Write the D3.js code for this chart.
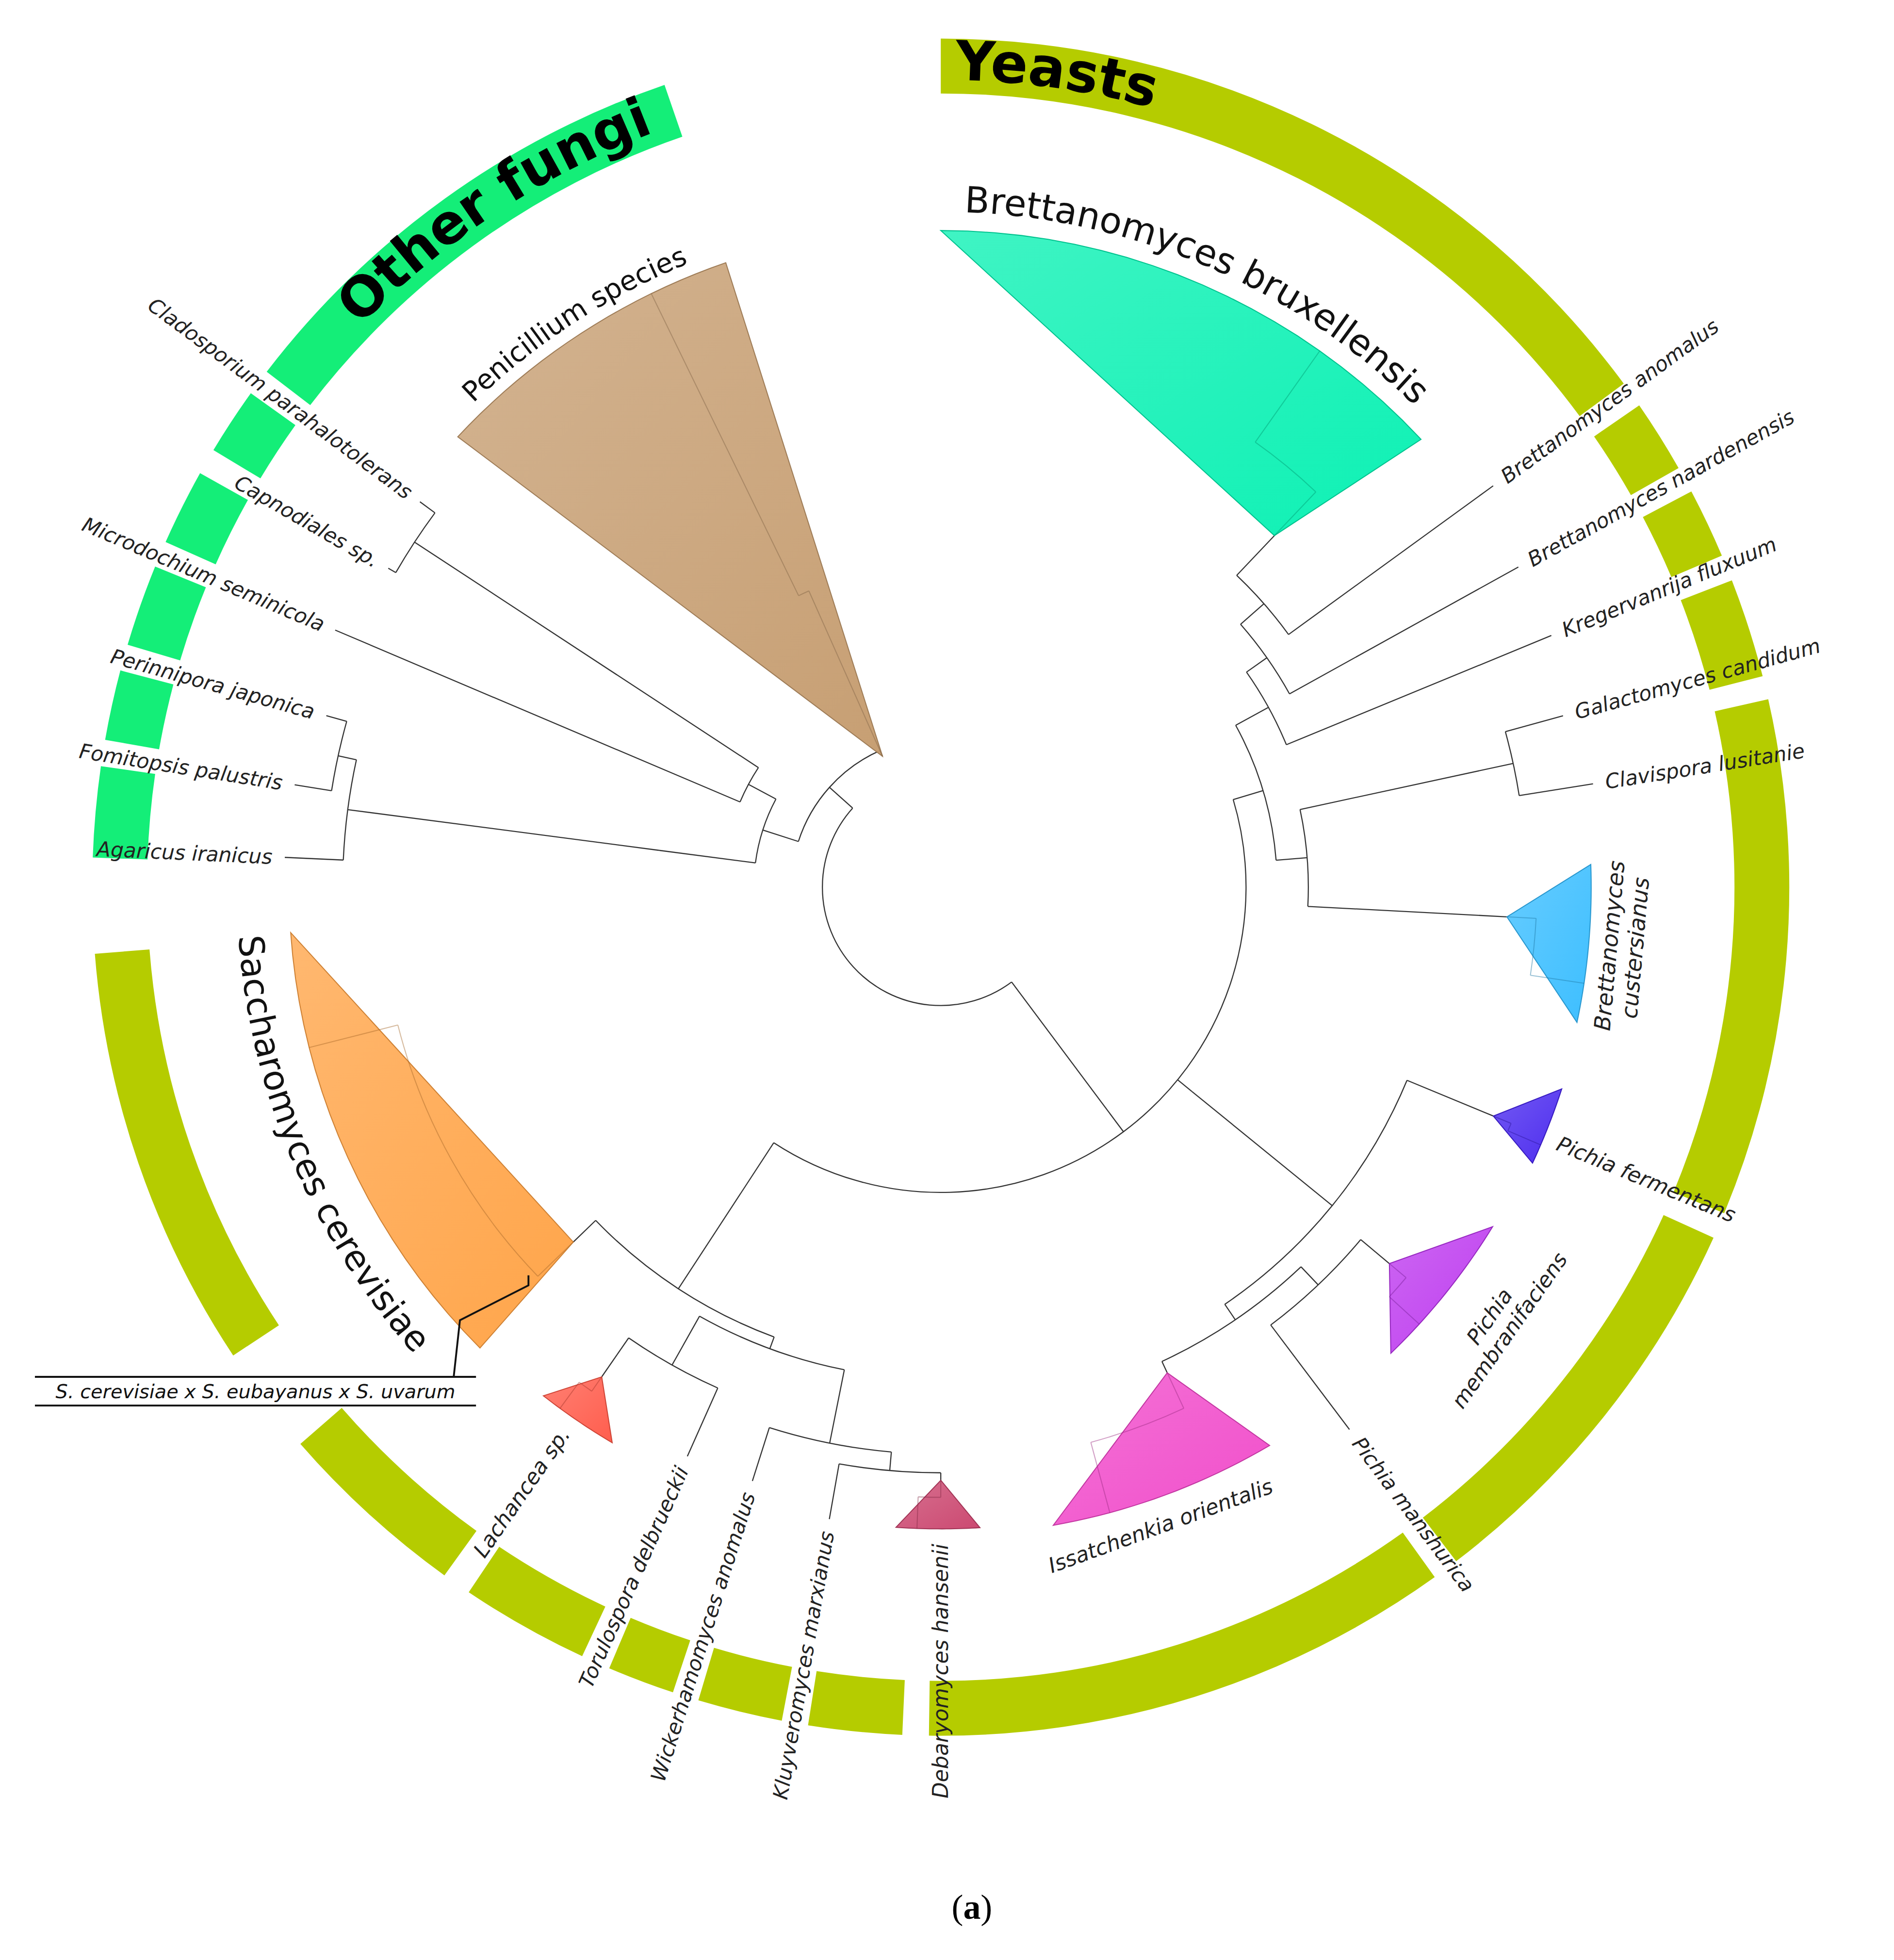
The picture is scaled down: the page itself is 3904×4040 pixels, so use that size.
<!DOCTYPE html>
<html><head><meta charset="utf-8">
<script src="https://cdn.jsdelivr.net/npm/d3@7"></script>
<style>body{margin:0;background:#fff}</style></head>
<body><svg id="c"></svg>
<script>
// ---- DATA ----
const nodes = [
 ["root","",95],["fungi","root",120],["f1","fungi",150],["f2","f1",175],["cc","f2",505],
 ["f3","f1",228],["agf","f3",480],["fp","agf",495],
 ["yeasts","root",245],["y1","yeasts",250],["y1a","y1",385],["y1b","y1a",395],["lt","y1b",440],
 ["wk","y1b",455],["kd","wk",470],
 ["y2","yeasts",260],["p1","y2",405],["p2","p1",420],["p3","p2",440],
 ["y3","yeasts",270],["gc","y3",295],["gc2","gc",470],["bk","y3",300],["bk2","bk",320],["bk3","bk2",345]
];
const leaves = [
 ["Capnodiales sp.","cc",300,512],["Cladosporium parahalotolerans","cc",306.5,520],
 ["Microdochium seminicola","f2",293,528],["Agaricus iranicus","agf",272.6,527],
 ["Fomitopsis palustris","fp",279,525],["Perinnipora japonica","fp",285.6,512],
 ["Torulospora delbrueckii","lt",204,500],["Wickerhamomyces anomalus","wk",197.6,500],
 ["Kluyveromyces marxianus","kd",190,515],["Pichia manshurica","p3",143,545],
 ["Galactomyces candidum","gc2",74.6,518],["Clavispora lusitanie","gc2",81,530],
 ["Kregervanrija fluxuum","bk",67.6,530],["Brettanomyces naardenensis","bk2",61,530],
 ["Brettanomyces anomalus","bk3",54,548]
];
const clades = [
 ["pen","fungi",313,341,336,115,530,"#c49a6c","Penicillium species"],
 ["scer","y1a",225,266,226,410,523,"#ffa040","Saccharomyces cerevisiae"],
 ["lach","lt",210.6,218,214.7,478,518,"#ff5544","Lachancea sp."],
 ["deb","kd",176.5,184,180,476,515,"#c9406a","Debaryomyces hansenii"],
 ["ferm","p1",108,115,112.5,480,524,"#4422ee","Pichia fermentans"],
 ["iss","p2",149.5,170,155,430,520,"#f044c8","Issatchenkia orientalis"],
 ["memb","p3",121.6,136,130,470,520,"#bb33ee","Pichia membranifaciens"],
 ["cust","gc",88,102,93,455,522,"#33bbff","Brettanomyces custersianus"],
 ["brux","bk3",0,47,43.5,389,527,"#00f0b0","Brettanomyces bruxellensis"]
];
const ringNames = ["Yeasts","Other fungi"];
const ringSpans = [[0,265.5],[272,341]];
const ringGaps = [[[53.6,55.4],[60.4,62.2],[67,68.8],[75.6,77.2],[112.6,114.4],[142.6,144.4],[180.8,182.6],[189,190.8],[196.6,198.4],[203,205],[213.8,215.8],[229,236.5]],
                  [[278.2,280],[284.8,286.6],[292.2,294],[299.2,301],[305.6,307.4]]];
const ringColors = ["#b5cc00","#14ee78"];
const ringTextSpan = [[1,27],[314,340]];
const hybridLabel = "S. cerevisiae x S. eubayanus x S. uvarum";

// ---- DRAW ----
const W=1520,H=1573;
const svg=d3.select("#c").attr("width",3904).attr("height",4040).attr("viewBox",`0 0 ${W} ${H}`);
const cx=755, cy=712;
const R=d3.scaleLinear().domain([0,700]).range([0,700]);
const pt=(a,r)=>{const t=a*Math.PI/180;return [cx+R(r)*Math.sin(t), cy-R(r)*Math.cos(t)];};
const rad=a=>a*Math.PI/180;
const defs=svg.append("defs");

const arcGen=d3.arc().innerRadius(R(637)).outerRadius(R(681));
ringSpans.forEach((s,i)=>{
  let segs=[],cur=s[0];
  ringGaps[i].forEach(g=>{segs.push([cur,g[0]]);cur=g[1];});
  segs.push([cur,s[1]]);
  svg.append("g").attr("transform",`translate(${cx},${cy})`).selectAll("path").data(segs).join("path")
    .attr("d",d=>arcGen({startAngle:rad(d[0]),endAngle:rad(d[1])})).attr("fill",ringColors[i]);
  const p=d3.path();p.arc(cx,cy,R(648),rad(ringTextSpan[i][0]-90),rad(ringTextSpan[i][1]-90),false);
  defs.append("path").attr("id","ring"+i).attr("d",p.toString());
  svg.append("text").attr("font-family","DejaVu Sans").attr("font-weight","bold").attr("font-size",44).attr("fill","#000")
    .append("textPath").attr("href","#ring"+i).text(ringNames[i]);
});

const rows=[...nodes.map(n=>({id:n[0],parent:n[1]||null,r:n[2],type:"node"})),
  ...leaves.map(l=>({id:l[0],parent:l[1],a:l[2],r:l[3],type:"leaf"})),
  ...clades.map(c=>({id:c[0],parent:c[1],a0:c[2],a1:c[3],a:c[4],r:c[5],ro:c[6],color:c[7],label:c[8],type:"clade"}))];
const root=d3.stratify().id(d=>d.id).parentId(d=>d.parent)(rows);
root.eachAfter(n=>{ if(n.children){const as=n.children.map(c=>c.data.a);n.data.a=(d3.min(as)+d3.max(as))/2;} });

const gT=svg.append("g").attr("fill","none").attr("stroke","#333").attr("stroke-width",0.9);
root.each(n=>{
  if(!n.children) return;
  const as=n.children.map(c=>c.data.a);
  const a0=d3.min(as),a1=d3.max(as);
  if(a1>a0){const p=d3.path();p.arc(cx,cy,R(n.data.r),rad(a0-90),rad(a1-90),false);gT.append("path").attr("d",p.toString());}
  n.children.forEach(c=>{
    gT.append("path").attr("d",d3.line()([pt(c.data.a,n.data.r),pt(c.data.a,c.data.r)]));
  });
});

root.leaves().filter(l=>l.data.type==="clade").forEach(l=>{
  const d=l.data, pts=[pt(d.a,d.r)];
  d3.range(d.a0,d.a1+0.01,(d.a1-d.a0)/20).forEach(a=>pts.push(pt(a,d.ro)));
  const gid="gr"+d.id;
  const gr=defs.append("linearGradient").attr("id",gid).attr("x1","0").attr("y1","0").attr("x2","1").attr("y2","1");
  gr.append("stop").attr("offset","0").attr("stop-color",d.color).attr("stop-opacity",0.75);
  gr.append("stop").attr("offset","1").attr("stop-color",d.color).attr("stop-opacity",0.95);
  svg.append("path").attr("d",d3.line()(pts)+"Z").attr("fill",`url(#${gid})`)
    .attr("stroke",d3.color(d.color).darker(0.6)).attr("stroke-width",0.8);
  const g=svg.append("g").attr("fill","none").attr("stroke",d3.color(d.color).darker(1.2)).attr("stroke-width",0.8).attr("opacity",0.45);
  const ri=d.r+(d.ro-d.r)*0.35, am=(d.a0+d.a1)/2, ab=am+(d.a1-d.a0)*0.25;
  const lo=Math.min(d.a,ab), hi=Math.max(d.a,ab);
  const p=d3.path();p.arc(cx,cy,R(ri),rad(lo-90),rad(hi-90),false);
  g.append("path").attr("d",p.toString());
  g.append("path").attr("d",d3.line()([pt(d.a,d.r),pt(d.a,ri)]));
  g.append("path").attr("d",d3.line()([pt(ab,ri),pt(ab,d.ro)]));
});

const lab=svg.append("g").attr("font-family","DejaVu Sans").attr("font-style","italic").attr("font-size",16.5).attr("fill","#222");
function radial(text,a,r,size){
  const [x,y]=pt(a,r), right=a<180;
  lab.append("text").attr("transform",`translate(${x},${y}) rotate(${right?a-90:a+90})`)
    .attr("text-anchor",right?"start":"end").attr("dy","0.35em").attr("font-size",size||16.5).text(text);
}
root.leaves().filter(l=>l.data.type==="leaf").forEach(l=>radial(l.id,l.data.a,l.data.r+10));

const C=Object.fromEntries(clades.map(c=>[c[0],c]));
["ferm","lach","deb"].forEach(k=>radial(C[k][8],C[k][4],C[k][6]+12,17));
function tang(lines,a,r,rot,size,italic){
  const [x,y]=pt(a,r);
  const t=svg.append("text").attr("transform",`translate(${x},${y}) rotate(${rot})`).attr("text-anchor","middle")
    .attr("font-family","DejaVu Sans").attr("font-style",italic?"italic":"normal").attr("font-size",size).attr("fill","#222");
  lines.forEach((s,i)=>t.append("tspan").attr("x",0).attr("dy",i?"1.15em":0).text(s));
}
tang([C.iss[8]],161,548,-20,17,true);
tang(C.cust[8].split(" "),95,545,-85,18,true);
tang(C.memb[8].split(" "),128,565,-55,17,true);

function arcLabel(id,text,a0,a1,r,size,ccw){
  const p=d3.path();
  p.arc(cx,cy,R(r),rad(a0-90),rad(a1-90),!!ccw);
  defs.append("path").attr("id",id).attr("d",p.toString());
  svg.append("text").attr("font-family","DejaVu Sans").attr("font-size",size).attr("fill","#111")
    .append("textPath").attr("href","#"+id).text(text);
}
arcLabel("tb",C.brux[8],2,60,542,29,false);
arcLabel("tp",C.pen[8],316,350,540,22,false);
arcLabel("ts",C.scer[8],266,215,565,28,true);

const hb=svg.append("g");
const s0=pt(226,460);
hb.append("path").attr("fill","none").attr("stroke","#111").attr("stroke-width",1.5)
  .attr("d",d3.line()([[s0[0],s0[1]-8],[s0[0],s0[1]],[s0[0]-55,s0[1]+28],[s0[0]-60,1105]]));
hb.append("line").attr("x1",28).attr("x2",382).attr("y1",1105).attr("y2",1105).attr("stroke","#111").attr("stroke-width",1.5);
hb.append("line").attr("x1",28).attr("x2",382).attr("y1",1128).attr("y2",1128).attr("stroke","#111").attr("stroke-width",1.5);
hb.append("text").attr("x",205).attr("y",1122).attr("text-anchor","middle").attr("font-family","DejaVu Sans")
  .attr("font-style","italic").attr("font-size",15.5).attr("fill","#111").text(hybridLabel);

const cap=svg.append("text").attr("x",780).attr("y",1540).attr("text-anchor","middle").attr("font-family","Liberation Serif").attr("font-size",28);
cap.append("tspan").text("(");cap.append("tspan").attr("font-weight","bold").text("a");cap.append("tspan").text(")");
</script></body></html>
